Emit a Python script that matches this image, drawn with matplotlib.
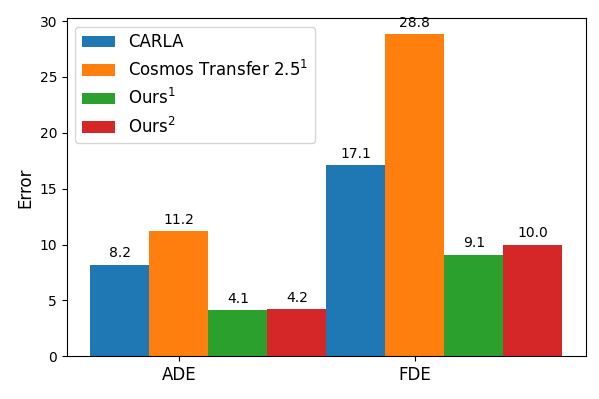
import numpy as np
import matplotlib
matplotlib.use('Agg')
import matplotlib.pyplot as plt

# datos
metricas = ['ADE', 'FDE']
series = ['CARLA', 'Cosmos Transfer 2.5$^1$', 'Ours$^1$', 'Ours$^2$']
carla = [8.2, 17.1]
cosmos = [11.2, 28.8]
ours1 = [4.1, 9.1]
ours2 = [4.2, 10.0]
valores = [carla, cosmos, ours1, ours2]

fig, ax = plt.subplots(figsize=(5.99, 3.99), dpi=100)
x = np.arange(len(metricas))
ancho = 0.25

for i, (nombre, vals) in enumerate(zip(series, valores)):
    barras = ax.bar(x + (i - 1) * ancho, vals, ancho, label=nombre)
    ax.bar_label(barras, labels=[f'{v:.1f}' for v in vals], padding=3, fontsize=10)

ax.set_xticks(x)
ax.set_xticklabels(metricas, fontsize=12)
ax.set_ylabel('Error', fontsize=12)
ax.legend(fontsize=12, loc='upper left')

plt.subplots_adjust(left=0.1115, right=0.978, top=0.954, bottom=0.107)
plt.savefig('out.png', dpi=100)
